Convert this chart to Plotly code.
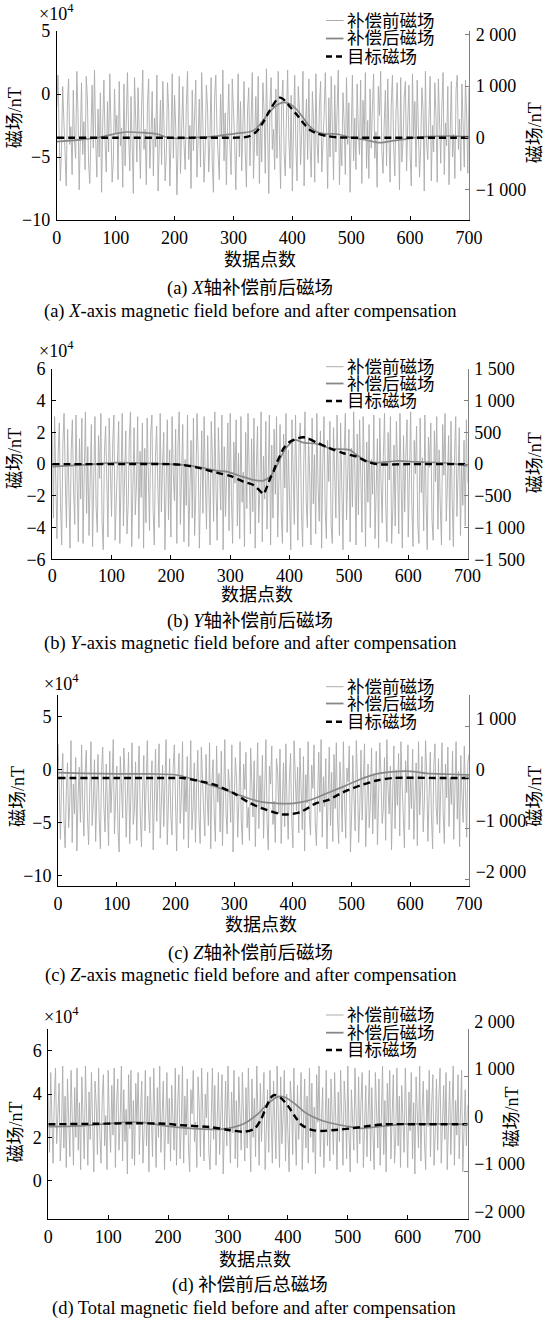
import plotly.graph_objects as go

W, H = 546, 1319

# ---------------- data ----------------
NOISE_STEP = 2  # sample spacing of the pre-compensation record (data points)

# 补偿前磁场 (left axis, x1e4 nT)
noise_a = [-1.0, 1.5, -3.2, -6.9, -4.4, 0.6, -2.1, -5.8, -7.3, -0.8, 1.2, -4.0, -2.6, -6.4, 0.3, -3.7, -5.1, 1.8, -1.5, -7.6, -3.0, 0.9, -4.8, -2.2, -6.0, 1.4, -0.4,
           -5.5, -7.1, -2.9, 0.7, -4.3, 1.9, -3.5, -6.6, -1.2, -5.0, 0.1, -7.8, -2.4, 1.1, -3.9, -6.2, -0.6, -4.6, 1.6, -2.0, -7.0, -5.3, 0.4, -3.1, -1.7, -6.8, 1.0,
           -4.1, -2.7, -7.4, 0.8, -5.7, -1.4, 1.7, -3.3, -6.1, -0.2, -4.9, -7.9, 1.3, -2.5, -5.4, 0.5, -3.8, -6.7, -1.0, 1.9, -4.4, -2.8, -7.2, -0.7, 1.2, -5.9, -3.4,
           0.2, -6.5, -1.9, -4.2, 1.5, -7.7, -3.0, -0.5, -5.6, 1.0, -2.3, -6.9, -4.7, 0.9, -1.3, -7.3, -3.6, 1.6, -5.1, -0.1, -2.7, -8.0, -4.0, 1.4, -6.3, -1.8, 0.6,
           -3.9, -6.0, -0.9, 1.8, -5.2, -2.5, -7.5, 0.3, -4.5, -1.6, 1.1, -6.6, -3.3, -0.4, -5.8, 1.7, -2.1, -7.0, -4.3, 0.7, -1.1, -6.2, -3.7, 1.3, -5.5, -7.8, -0.3,
           1.5, -2.9, -4.8, -6.8, 0.0, -3.4, 1.9, -5.3, -1.5, -7.2, -2.6, 0.8, -4.1, -6.4, 1.2, -0.8, -3.8, -7.6, -2.0, 1.6, -5.0, -0.6, -6.1, -3.1, 1.0, -4.6, -7.4,
           -1.2, 0.5, -5.7, -2.4, 1.7, -6.7, -3.5, -0.2, -4.9, 1.4, -7.1, -2.2, -5.4, 0.9, -1.4, -6.3, 2.0, -3.9, -7.9, -0.7, 1.3, -4.4, -2.8, -6.0, 0.4, -5.1, 1.8,
           -3.2, -7.5, -0.5, 1.1, -4.7, -6.5, -1.8, 1.9, -3.6, -5.9, -0.1, -7.7, -2.5, 1.5, -4.2, -6.9, 0.6, -1.1, -5.6, -3.0, 1.8, -7.3, -2.7, -0.4, -5.2, 1.2, -4.0,
           -6.6, 0.2, -2.0, -7.0, 1.6, -3.8, -5.5, -0.9, 1.0, -6.2, -4.4, -1.6, 1.7, -3.1, -7.5, -0.3, -5.0, 1.4, -2.6, -6.8, 0.7, -4.6, -1.3, 1.9, -7.2, -3.4, -5.7,
           0.1, -2.3, -6.4, 1.3, -4.0, -0.7, -7.8, -3.2, 1.5, -5.3, -1.9, -6.0, 0.8, -2.8, -4.8, 1.1, -7.1, -0.5, -3.6, 1.7, -5.9, -2.1, -6.7, 0.4, -4.3, -1.0, 1.6,
           -5.1, -3.0, -7.4, 0.6, -1.7, 1.8, -4.5, -6.3, -2.4, 0.3, -5.7, 1.2, -3.3, -7.0, -0.8, 1.5, -4.1, -6.5, -1.5, 0.9, -2.9, -7.6, 1.3, -5.4, -3.7, -0.2, 1.0,
           -6.1, -2.2, 0.7, -4.9, -7.3, 1.6, -3.5, -0.6, -5.8, 1.1, -2.7, -6.6, -4.2, 0.5, -1.2, -7.7, 1.8, -3.9, -5.2, -0.4, 1.4, -6.9, -2.5, -4.6, 0.9, -1.8, -7.0,
           1.2, -3.6, -5.5, -0.9, 1.7, -6.4, -2.3, -4.1, 0.6, -7.2, -1.4, 1.0, -5.0, -3.2, -6.7, 0.3, 1.5, -4.4, -2.0, -6.1, 0.8, -3.7, -5.8, 1.1, -1.6, -6.3, 0.5]
noise_b = [2.0, -3.4, 3.0, -1.2, -4.7, 0.6, 2.6, -2.5, -5.1, 1.3, 3.2, -0.8, -4.0, 2.2, -2.9, -5.3, 0.9, 2.8, -1.7, -3.8, 3.1, -0.2, -4.9, 1.6, -2.2, 2.9, -5.0,
           -0.5, 3.3, -3.1, 1.1, -4.5, -1.4, 2.5, -5.2, 0.2, 3.0, -2.7, -4.3, 1.8, -0.9, 3.2, -3.6, -5.4, 0.7, 2.4, -2.0, -4.6, 2.9, -1.1, -3.3, 1.4, 3.1, -4.8,
           -2.4, 0.4, 2.7, -5.0, -1.6, 3.2, -3.9, 0.0, 2.1, -4.4, -2.6, 1.7, 3.3, -5.2, -0.7, 2.3, -3.2, -1.3, 3.0, -4.7, 0.8, -2.1, 2.6, -5.3, 1.0, -3.7, 2.9,
           -0.3, -4.2, 1.9, 3.1, -2.8, -5.1, 0.5, 2.4, -1.5, -4.0, 3.2, -3.0, 0.1, 2.0, -5.4, -1.9, 2.8, -3.5, 0.9, -4.6, 3.0, -0.6, -2.3, 2.2, -5.0, 1.2, 3.3,
           -3.8, -1.0, 2.5, -4.9, 0.3, -2.6, 3.1, -5.2, -0.4, 1.5, -3.4, 2.9, -4.5, -1.8, 3.2, 0.6, -5.3, -2.0, 2.1, -3.1, 3.0, -0.9, -4.1, 1.8, -2.7, -5.1, 2.7,
           0.4, -3.6, 3.3, -1.4, -4.8, 2.3, -0.1, -2.9, 3.1, -5.4, 1.1, -3.3, -0.7, 2.6, -4.2, 3.2, -2.1, -5.0, 1.4, -1.2, 2.8, -3.9, 0.7, -4.7, 3.0, -2.4, -0.5,
           -5.2, 2.0, -2.8, 3.2, -1.0, -4.4, 1.6, -3.0, 2.9, -5.3, -0.2, 2.4, -3.7, -1.6, 3.3, -4.9, 0.5, -2.2, 2.7, -4.1, -0.8, 3.1, -5.1, 1.2, -3.4, 2.2, -1.9,
           3.0, -4.6, -0.6, 2.5, -3.2, -5.0, 1.9, -1.5, 3.2, -4.3, 0.9, -2.6, -5.4, 2.8, -0.3, -3.8, 3.1, -1.9, -4.8, 1.3, 2.6, -3.1, -5.2, 0.2, 3.3, -2.3, -4.0,
           1.7, -0.8, -5.1, 2.9, -2.5, 0.6, -4.4, 3.2, -1.3, -3.6, 2.1, -5.3, 0.0, 3.0, -2.9, -4.7, 1.5, -1.1, 2.7, -3.9, -5.0, 2.3, -0.5, -3.4, 3.1, -1.7, -4.5,
           2.6, -2.0, -5.4, 0.8, 3.2, -3.5, -1.2, 2.2, -4.9, 1.0, -2.7, 3.3, -0.4, -5.1, 1.9, -3.2, 2.8, -1.6, -4.3, 3.0, -0.1, -5.2, 1.4, -2.4, 2.5, -4.0, 0.3,
           -1.9, 3.1, -4.7, -2.2, 1.6, -5.3, 2.9, -0.9, -3.7, 0.5, 3.2, -2.6, -4.9, 2.0, -1.0, 3.0, -5.0, -2.8, 1.2, -3.9, 2.7, -0.3, -4.4, 3.2, -1.5, -5.3, 1.8,
           -3.0, 0.7, 2.8, -4.6, -1.4, 3.3, -2.5, -5.2, 1.5, -0.6, 2.4, -3.8, -5.0, 2.9, -1.8, 0.4, -4.2, 3.1, -2.3, -5.4, 1.7, -0.2, 2.6, -3.5, -4.8, 2.1, -1.1,
           3.0, -4.1, 0.9, -2.7, -5.1, 2.5, -0.7, 3.2, -3.6, -1.3, 1.8, -4.8, 2.7, -2.1, -5.2, 0.6, 3.0, -3.3, -1.0, 2.3, -4.5, 0.1, -2.6, 1.5, -3.9, 2.8, -1.2]
noise_c = [2.4, -3.9, -6.6, -0.8, 1.5, -4.8, -7.4, -2.0, 0.6, -5.5, -3.1, 2.7, -6.9, -1.4, -4.2, 1.1, -7.7, -2.6, 0.2, -5.0, 2.3, -3.6, -6.3, -0.4, 1.8, -4.5, -7.1,
           -1.9, 2.6, -5.3, -3.0, 0.9, -6.8, -2.3, 1.4, -4.7, -7.5, -0.1, 2.1, -3.5, -5.9, 0.5, -2.8, -7.2, 1.7, -4.1, -1.1, 2.8, -6.1, -3.4, 0.3, -5.6, -7.8, 1.2,
           -2.5, -4.6, 2.0, -0.6, -6.4, -3.3, 1.6, -7.0, -1.6, 2.5, -5.2, -3.8, 0.7, -6.7, -0.9, 2.2, -4.4, -7.3, -2.1, 1.3, -5.8, -0.3, 2.7, -3.7, -6.0, -1.3, 0.8,
           -7.6, -2.9, 1.9, -4.9, -0.5, 2.4, -6.5, -3.2, 0.4, -5.4, -1.8, 2.8, -7.1, -2.4, 1.0, -4.3, -6.2, 0.1, 2.3, -3.0, -7.7, -1.0, 1.5, -5.1, -2.7, 2.6, -6.6,
           -0.7, -4.0, 1.2, -7.4, -2.2, 2.7, -5.7, -3.5, 0.6, -6.9, -1.5, 1.8, -4.6, -7.0, 2.1, -0.2, -3.9, -6.3, 1.4, -2.6, -5.3, 2.5, -7.5, -1.2, 0.9, -4.4, -6.8,
           2.2, -3.1, -0.4, -5.9, 1.7, -7.2, -2.5, 2.8, -4.1, -6.1, 0.0, -1.7, -5.0, 2.3, -7.8, -3.3, 1.1, -0.8, -6.4, -2.9, 2.6, -4.8, -7.1, 0.5, -1.9, 1.6, -5.5,
           -3.6, -6.7, 2.0, -1.1, -4.5, 0.8, -7.3, -2.3, 2.5, -5.6, -0.6, -3.8, 1.3, -6.5, -2.0, 2.8, -4.9, -7.6, 0.3, -1.4, 2.2, -5.2, -3.0, -6.9, 1.0, -0.2, -4.2,
           1.9, -7.0, -2.7, 0.6, -5.4, 2.4, -3.4, -6.6, -0.9, 1.5, -4.7, -7.4, 2.7, -1.6, -3.9, 0.2, -6.0, 2.0, -2.4, -5.7, 1.2, -7.7, -0.5, -3.2, 2.6, -4.3, -6.2,
           0.4, -1.8, 2.3, -5.0, -7.2, -2.8, 1.6, -4.0, 2.8, -6.4, -0.7, -3.5, 1.0, -7.5, -2.2, 2.1, -5.3, -0.3, -6.8, 1.4, -3.7, 2.5, -4.6, -7.0, 0.7, -1.5, -5.9,
           2.6, -3.0, -6.5, 0.1, -1.2, 2.2, -7.8, -4.4, 1.3, -2.6, -5.8, 2.7, -0.8, -6.9, -3.6, 1.8, -4.8, -1.0, 2.4, -7.3, -2.1, 0.5, -5.5, -3.3, 2.0, -6.1, -0.4,
           -4.7, 1.7, -7.1, -2.9, 2.5, -0.6, -5.1, -3.8, 1.1, -6.7, 2.8, -1.7, -4.2, 0.3, -7.6, -2.4, 2.2, -5.6, -0.1, -3.4, 1.5, -6.3, 2.6, -1.3, -4.9, -7.4, 0.8,
           -2.2, 2.3, -5.7, -0.9, -3.7, 1.9, -6.6, -2.6, 0.6, -7.2, 2.6, -4.3, -1.4, 1.2, -5.9, -3.1, 2.7, -0.5, -6.8, -2.0, 1.6, -4.5, -7.5, 0.2, 2.4, -3.6, -5.2,
           1.0, -6.0, -1.6, 2.5, -4.1, -7.0, 0.5, -2.7, 2.1, -5.4, -0.8, -3.3, 1.7, -6.6, -1.9, 2.6, -4.7, -0.2, -7.3, 1.3, -2.5, -5.0, 2.2, -3.9, -6.4, 0.6, 1.4]
noise_d = [4.0, 1.3, 5.0, 2.6, 0.8, 3.7, 5.2, 1.7, 3.1, 4.5, 0.9, 2.3, 5.3, 1.5, 3.9, 0.6, 4.7, 2.8, 1.1, 5.1, 3.4, 0.7, 4.3, 2.0, 5.2, 1.4, 3.6,
           0.5, 4.8, 2.5, 1.0, 5.3, 3.2, 0.7, 4.1, 1.9, 5.0, 2.9, 0.4, 4.6, 3.5, 1.2, 5.2, 2.2, 0.8, 3.8, 4.9, 1.6, 3.0, 0.5, 5.1, 2.7, 1.3, 4.4,
           2.1, 5.2, 0.6, 3.6, 4.7, 1.4, 2.8, 5.3, 0.9, 4.2, 1.8, 3.3, 0.3, 4.9, 2.4, 5.1, 1.0, 3.7, 0.7, 4.5, 2.6, 5.0, 1.2, 3.1, 4.6, 0.8, 2.3,
           5.1, 1.6, 3.9, 0.4, 4.8, 2.7, 1.1, 5.2, 3.4, 0.6, 4.3, 2.0, 5.3, 1.3, 3.0, 4.6, 0.5, 2.5, 5.0, 1.7, 3.8, 0.9, 4.4, 2.9, 1.4, 5.2, 0.7,
           3.5, 4.9, 1.0, 2.6, 5.3, 0.8, 3.9, 2.1, 4.7, 1.5, 0.4, 4.2, 3.1, 5.1, 1.8, 2.7, 0.6, 4.8, 3.4, 1.1, 5.2, 2.3, 0.9, 4.0, 2.9, 5.0, 1.3,
           0.5, 3.6, 5.2, 1.9, 4.4, 0.7, 2.8, 5.0, 1.2, 3.3, 4.9, 0.3, 2.4, 4.6, 1.6, 5.3, 3.0, 0.8, 4.1, 2.2, 5.1, 1.0, 3.7, 0.6, 4.8, 2.5, 1.4,
           5.0, 2.9, 0.9, 4.3, 1.5, 5.2, 3.2, 0.4, 4.7, 2.0, 3.8, 1.1, 5.3, 2.6, 0.7, 4.5, 1.8, 3.5, 5.0, 0.5, 2.7, 4.2, 1.3, 5.1, 3.0, 0.8, 4.6,
           2.4, 1.0, 5.3, 3.3, 0.6, 4.8, 1.7, 2.9, 5.1, 0.9, 4.0, 2.2, 0.4, 4.6, 3.6, 1.2, 5.2, 2.5, 0.7, 4.4, 1.9, 3.1, 5.0, 0.5, 2.8, 4.7, 1.5,
           3.9, 0.8, 5.2, 2.0, 4.5, 1.3, 3.4, 0.3, 4.9, 2.7, 5.3, 1.1, 3.0, 4.3, 0.6, 2.3, 5.1, 1.6, 3.8, 0.9, 4.7, 2.6, 1.2, 5.0, 3.2, 0.5, 4.1,
           1.8, 5.1, 2.8, 0.7, 4.6, 3.5, 1.0, 5.3, 2.1, 0.4, 4.2, 3.0, 1.4, 5.2, 2.6, 0.8, 4.8, 1.7, 3.6, 5.0, 0.6, 2.4, 4.4, 1.1, 3.3, 5.1, 0.9,
           4.3, 2.2, 0.5, 5.0, 3.1, 1.5, 4.7, 0.7, 2.9, 5.3, 1.2, 3.7, 0.4, 4.5, 2.5, 5.1, 1.0, 3.4, 4.9, 0.8, 2.0, 5.2, 1.6, 3.9, 0.6, 4.4, 2.7,
           1.3, 5.2, 3.0, 0.6, 4.1, 2.3, 5.0, 1.0, 3.6, 0.3, 4.8, 2.8, 1.5, 5.3, 0.9, 3.2, 4.6, 1.8, 0.5, 4.2, 2.5, 5.1, 1.1, 3.5, 4.9, 0.7, 2.2,
           4.7, 1.4, 3.8, 5.2, 0.8, 2.6, 4.4, 1.9, 5.0, 0.5, 3.3, 4.6, 1.2, 2.9, 5.3, 0.7, 3.7, 2.1, 4.9, 1.0, 3.0, 5.1, 0.4, 2.4, 4.2, 1.6, 3.5]

# 补偿后磁场 (right axis, nT)
comp_a_x = [0, 45, 73, 102, 119, 147, 170, 187, 203, 243, 272, 305, 328, 339, 351, 362, 374, 385, 396, 408, 419, 430, 441, 458, 475, 498, 526, 549, 572, 600, 628, 668, 700]
comp_a_v = [-75, -31, 8, 85, 110, 97, 72, 8, -12, 8, 33, 85, 116, 182, 342, 503, 633, 685, 652, 536, 375, 213, 116, 72, 72, 8, -45, -97, -58, -12, 20, 33, 20]
comp_b_x = [0, 52, 108, 165, 221, 249, 277, 294, 317, 339, 356, 367, 378, 390, 401, 409, 423, 446, 468, 491, 502, 513, 530, 547, 581, 615, 672, 700]
comp_b_v = [-40, -13, 24, 13, -13, -50, -102, -118, -186, -249, -260, -197, -39, 197, 329, 381, 339, 318, 250, 235, 224, 145, 50, 24, 50, 35, 13, -28]
comp_c_x = [0, 43, 100, 157, 202, 231, 259, 288, 316, 344, 373, 401, 430, 458, 486, 515, 543, 572, 600, 628, 667, 700]
comp_c_v = [104, 92, 79, 79, 59, -25, -137, -248, -366, -464, -496, -496, -431, -300, -170, -25, 79, 124, 131, 92, 73, 59]
comp_d_x = [0, 50, 106, 134, 161, 189, 217, 245, 273, 301, 328, 351, 367, 384, 395, 412, 429, 451, 473, 496, 523, 551, 579, 607, 663, 700]
comp_d_v = [-50, -36, 21, 48, 35, -21, -63, -93, -105, -84, 21, 232, 442, 582, 568, 428, 245, 105, 21, -36, -84, -50, -14, 7, 7, 0]

# 目标磁场 (right axis, nT)
tgt_a_x = [0, 100, 200, 300, 320, 328, 339, 351, 362, 374, 379, 385, 396, 408, 419, 430, 441, 458, 475, 495, 600, 700]
tgt_a_v = [0, 0, 0, 0, 10, 33, 116, 310, 536, 742, 775, 742, 600, 439, 278, 149, 85, 33, 8, 0, 0, 0]
tgt_b_x = [0, 100, 200, 221, 249, 277, 300, 322, 339, 350, 356, 362, 367, 373, 378, 384, 390, 401, 423, 446, 468, 491, 513, 530, 547, 600, 700]
tgt_b_v = [0, 0, 0, -13, -63, -134, -186, -276, -328, -420, -470, -354, -233, -112, 14, 134, 250, 355, 424, 339, 250, 172, 118, 42, 0, 0, 0]
tgt_c_x = [0, 100, 200, 213, 242, 270, 299, 327, 355, 384, 412, 440, 458, 486, 515, 543, 572, 650, 700]
tgt_c_v = [0, 0, 0, 0, -63, -147, -298, -494, -624, -716, -671, -494, -441, -278, -147, -49, 0, 0, 0]
tgt_d_x = [0, 100, 134, 200, 217, 273, 301, 328, 345, 356, 364, 373, 378, 389, 401, 412, 423, 440, 456, 479, 507, 535, 563, 620, 700]
tgt_d_v = [0, 15, 21, 10, -14, -63, -119, -155, -84, 126, 372, 582, 617, 547, 372, 161, -14, -119, -140, -119, -84, -36, 0, 0, 0]

# ticks / labels
x_ticks = [0, 100, 200, 300, 400, 500, 600, 700]
left_ticks = [[-10, -5, 0, 5], [-6, -4, -2, 0, 2, 4, 6], [-10, -5, 0, 5], [0, 2, 4, 6]]
left_ticktext = [["−10", "−5", "0", "5"], ["−6", "−4", "−2", "0", "2", "4", "6"],
                 ["−10", "−5", "0", "5"], ["0", "2", "4", "6"]]
right_ticks = [[-1000, 0, 1000, 2000], [-1500, -1000, -500, 0, 500, 1000, 1500],
               [-2000, -1000, 0, 1000], [-2000, -1000, 0, 1000, 2000]]
right_ticktext = [["−1 000", "0", "1 000", "2 000"],
                  ["−1 500", "−1 000", "−500", "0", "500", "1 000", "1 500"],
                  ["−2 000", "−1 000", "0", "1 000"],
                  ["−2 000", "−1 000", "0", "1 000", "2 000"]]
series_names = ["补偿前磁场", "补偿后磁场", "目标磁场"]
axis_title = "磁场/nT"
x_title = "数据点数"
captions_cn = ["(a) <i>X</i>轴补偿前后磁场", "(b) <i>Y</i>轴补偿前后磁场",
               "(c) <i>Z</i>轴补偿前后磁场", "(d) 补偿前后总磁场"]
captions_en = ["(a) <i>X</i>-axis magnetic field before and after compensation",
               "(b) <i>Y</i>-axis magnetic field before and after compensation",
               "(c) <i>Z</i>-axis magnetic field before and after compensation",
               "(d) Total magnetic field before and after compensation"]

noise = [noise_a, noise_b, noise_c, noise_d]
comp = [(comp_a_x, comp_a_v), (comp_b_x, comp_b_v), (comp_c_x, comp_c_v), (comp_d_x, comp_d_v)]
tgt = [(tgt_a_x, tgt_a_v), (tgt_b_x, tgt_b_v), (tgt_c_x, tgt_c_v), (tgt_d_x, tgt_d_v)]

# ---------------- layout geometry (pixels) ----------------
panels = [
    dict(box=(56.8, 469.0, 31.0, 220.0), lrange=[-10, 5], rrange=[-1593, 2065], rshift=0, xstand=1,
         xtitle_y=260, cap1_y=288.5, cap2_y=311.5, mult=(56.5, 12.5),
         ltitle=(15.7, 117.5), rtitle=(535, 133.3), leg_y=(20.5, 38.5, 56.5)),
    dict(box=(52.2, 467.6, 369.0, 559.3), lrange=[-6, 6], rrange=[-1500, 1500], rshift=0, xstand=0,
         xtitle_y=595, cap1_y=621.7, cap2_y=643.3, mult=(56.5, 349),
         ltitle=(15.7, 458.3), rtitle=(535, 463.3), leg_y=(366.7, 383.5, 401)),
    dict(box=(58.1, 469.0, 695.0, 886.0), lrange=[-11, 7], rrange=[-2118, 1627], rshift=-8, xstand=1,
         xtitle_y=925, cap1_y=953.3, cap2_y=975, mult=(61.5, 682.3),
         ltitle=(17.4, 796.7), rtitle=(535, 796.7), leg_y=(686.7, 703.5, 721.7)),
    dict(box=(48.3, 467.6, 1029.3, 1219.3), lrange=[-1.8, 7], rrange=[-2000, 2000], rshift=-8, xstand=1,
         xtitle_y=1260, cap1_y=1285, cap2_y=1308.3, mult=(61.5, 1015.7),
         ltitle=(15.7, 1131.7), rtitle=(511, 1117.5), leg_y=(1015, 1032.7, 1050)),
]

FONT = "Liberation Serif, 'Noto Sans CJK SC', serif"
NOISE_COLOR = "#acacac"
COMP_COLOR = "#878787"
AX_GRAY = "#808080"


def px(x):
    return x / W


def py(y):
    return 1 - y / H


fig = go.Figure()
layout = dict(width=W, height=H, autosize=False,
              margin=dict(l=0, r=0, t=0, b=0, pad=0, autoexpand=False),
              paper_bgcolor="white", plot_bgcolor="white",
              font=dict(family=FONT, size=18, color="black"), showlegend=False)
annotations = []
shapes = []

for i, p in enumerate(panels):
    k = i + 1
    xa = "x" if k == 1 else f"x{k}"
    yl = f"y{2 * k - 1}" if k > 1 else "y"
    yr = f"y{2 * k}"
    x0, x1, y0, y1 = p["box"]
    xs = [j * NOISE_STEP for j in range(len(noise[i]))]
    fig.add_trace(go.Scatter(x=xs, y=noise[i], xaxis=xa, yaxis=yl, mode="lines",
                             name=series_names[0],
                             line=dict(color=NOISE_COLOR, width=0.9)))
    fig.add_trace(go.Scatter(x=comp[i][0], y=comp[i][1], xaxis=xa, yaxis=yr, mode="lines",
                             name=series_names[1],
                             line=dict(color=COMP_COLOR, width=1.7, shape="spline", smoothing=0.8)))
    fig.add_trace(go.Scatter(x=tgt[i][0], y=tgt[i][1], xaxis=xa, yaxis=yr, mode="lines",
                             name=series_names[2],
                             line=dict(color="black", width=2.4, dash="7px,4px",
                                       shape="spline", smoothing=0.8)))

    xkey = "xaxis" if k == 1 else f"xaxis{k}"
    ylkey = "yaxis" if k == 1 else f"yaxis{2 * k - 1}"
    yrkey = f"yaxis{2 * k}"
    layout[xkey] = dict(domain=[px(x0), px(x1)], anchor=yl, range=[0, 700], automargin=False,
                        tickvals=x_ticks, ticks="inside", ticklen=4, tickcolor="black",
                        showline=True, linecolor="black", linewidth=1, mirror=False,
                        showgrid=False, zeroline=False,
                        tickfont=dict(family=FONT, size=18, color="black"),
                        ticklabelstandoff=p["xstand"])
    layout[ylkey] = dict(domain=[py(y1), py(y0)], anchor=xa, range=p["lrange"], automargin=False,
                         tickvals=left_ticks[i], ticktext=left_ticktext[i],
                         ticks="inside", ticklen=4, tickcolor="black",
                         showline=True, linecolor="black", linewidth=1,
                         showgrid=False, zeroline=False,
                         tickfont=dict(family=FONT, size=18, color="black"),
                         ticklabelstandoff=2)
    layout[yrkey] = dict(overlaying=yl, side="right", anchor=xa, range=p["rrange"], automargin=False,
                         tickvals=right_ticks[i], ticktext=right_ticktext[i],
                         ticks="inside", ticklen=4, tickcolor=AX_GRAY,
                         showline=True, linecolor=AX_GRAY, linewidth=1.2,
                         showgrid=False, zeroline=False,
                         tickfont=dict(family=FONT, size=18, color="black"),
                         ticklabelstandoff=2, ticklabelshift=p["rshift"])

    cx = (x0 + x1) / 2
    annotations += [
        dict(text="×10<sup>4</sup>", x=px(p["mult"][0]), y=py(p["mult"][1]),
             font=dict(size=18)),
        dict(text=axis_title, x=px(p["ltitle"][0]), y=py(p["ltitle"][1]), textangle=-90,
             font=dict(size=18)),
        dict(text=axis_title, x=px(p["rtitle"][0]), y=py(p["rtitle"][1]), textangle=-90,
             font=dict(size=18)),
        dict(text=x_title, x=px(cx - 3), y=py(p["xtitle_y"]), font=dict(size=18)),
        dict(text=captions_cn[i], x=px(250), y=py(p["cap1_y"]), font=dict(size=18.5)),
        dict(text=captions_en[i], x=px(250 if k < 4 else 254), y=py(p["cap2_y"]),
             font=dict(size=18.5)),
    ]
    styles = [dict(color=NOISE_COLOR, width=1), dict(color=COMP_COLOR, width=1.8),
              dict(color="black", width=2.4, dash="6px,4px")]
    for name, ly, st in zip(series_names, p["leg_y"], styles):
        shapes.append(dict(type="line", xref="paper", yref="paper",
                           x0=px(326), x1=px(343.5), y0=py(ly), y1=py(ly), line=st))
        annotations.append(dict(text=name, x=px(345), y=py(ly), xanchor="left",
                                font=dict(size=17.5)))

for a in annotations:
    a.setdefault("xref", "paper")
    a.setdefault("yref", "paper")
    a.setdefault("showarrow", False)
    a.setdefault("xanchor", "center")
    a.setdefault("yanchor", "middle")
    a["font"] = dict(family=FONT, color="black", **a["font"])

layout["annotations"] = annotations
layout["shapes"] = shapes
fig.update_layout(**layout)
fig.write_html(
    "out.html",
    config={"displayModeBar": False},
    post_script="document.body.style.margin='0';document.body.style.padding='0';"
                "document.body.style.overflow='hidden';",
)
